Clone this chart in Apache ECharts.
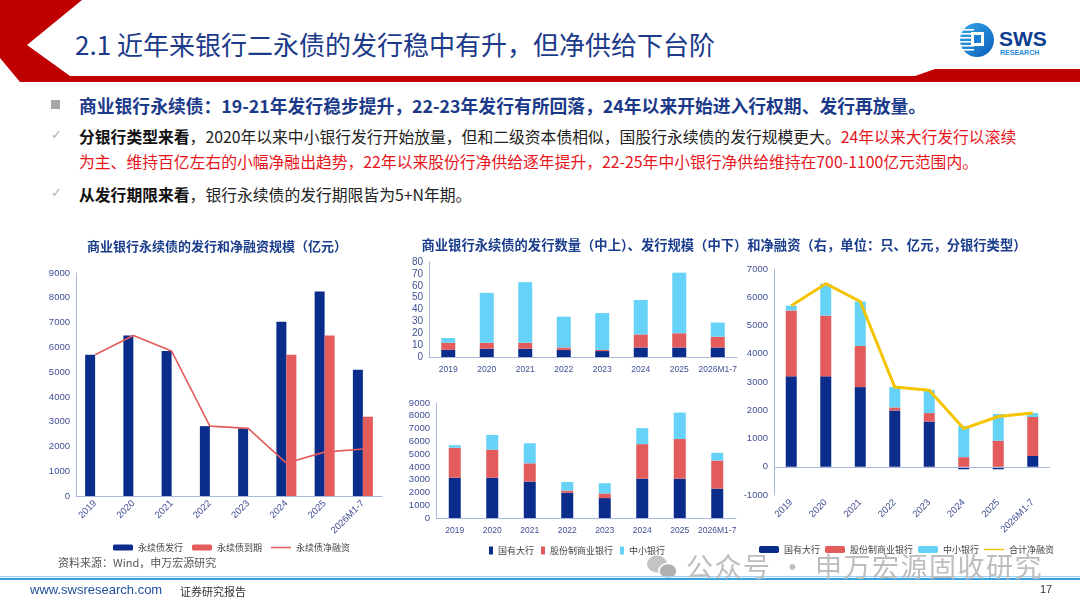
<!DOCTYPE html>
<html><head><meta charset="utf-8">
<script src="https://cdn.jsdelivr.net/npm/echarts@6/dist/echarts.min.js"></script>
<style>
html,body{margin:0;padding:0;}
body{width:1080px;height:608px;overflow:hidden;background:#fff;position:relative;font-family:'Noto Sans CJK SC','Noto Sans',sans-serif;}
.abs{position:absolute;white-space:nowrap;}
#title{left:75px;top:26px;font-size:26px;color:#1b3a8a;line-height:36px;}
.l1{left:79px;top:94px;font-size:17.8px;font-weight:bold;color:#1b3a8a;line-height:22px;}
.tx{left:79px;font-size:15.8px;line-height:22px;color:#222;}
.tx b{color:#111;}
.red{color:#e8141c;}
.chk{left:51px;font-size:13px;color:#b0b0b0;font-family:'DejaVu Sans',sans-serif;}
#chart{position:absolute;left:0;top:0;width:1080px;height:608px;}
.wm{left:686px;top:546px;font-size:27px;color:#bdbdbd;letter-spacing:1.5px;z-index:5;}
</style></head>
<body>
<svg class="abs" style="left:0;top:0" width="1080" height="100">
  <polygon points="0,0 82,0 27,45 70,76 915,76 935,69 1080,69 1080,82 20,82 0,58" fill="#c00000"/>
  <defs><linearGradient id="g1" x1="0" y1="0" x2="1" y2="1"><stop offset="0" stop-color="#35a8ef"/><stop offset="1" stop-color="#0b5fb5"/></linearGradient></defs>
  <circle cx="977" cy="40" r="17" fill="url(#g1)"/>
  <g fill="#fff">
    <rect x="960" y="29" width="14" height="1.6"/>
    <rect x="960" y="33" width="14" height="1.6"/>
    <rect x="960" y="37" width="14" height="1.6"/>
    <rect x="960" y="41" width="14" height="1.6"/>
    <rect x="960" y="45" width="14" height="1.6"/>
    <rect x="960" y="49" width="14" height="1.6"/>
    <rect x="971" y="32" width="13" height="14"/>
  </g>
  <rect x="974" y="35" width="7" height="8" fill="#1c7fd6"/>
  <text x="999" y="46" font-family="Liberation Sans" font-weight="bold" font-size="21" fill="#0d3e8f">SWS</text>
  <text x="1000" y="55" font-family="Liberation Sans" font-weight="bold" font-size="7" fill="#1e8ad8">RESEARCH</text>
</svg>
<div id="title" class="abs">2.1 近年来银行二永债的发行稳中有升，但净供给下台阶</div>
<div class="abs" style="left:51px;top:100px;width:9px;height:9px;background:#a6a6a6"></div>
<div class="abs l1">商业银行永续债：19-21年发行稳步提升，22-23年发行有所回落，24年以来开始进入行权期、发行再放量。</div>
<div class="abs chk" style="top:127px">✓</div>
<div class="abs tx" style="top:126px"><b>分银行类型来看</b>，2020年以来中小银行发行开始放量，但和二级资本债相似，国股行永续债的发行规模更大。<span class="red">24年以来大行发行以滚续</span></div>
<div class="abs tx red" style="top:151px">为主、维持百亿左右的小幅净融出趋势，22年以来股份行净供给逐年提升，22-25年中小银行净供给维持在700-1100亿元范围内。</div>
<div class="abs chk" style="top:185px">✓</div>
<div class="abs tx" style="top:184px"><b>从发行期限来看</b>，银行永续债的发行期限皆为5+N年期。</div>

<div id="chart"></div>

<svg class="abs" style="left:0;top:540px;z-index:4" width="1080" height="68">
  <ellipse cx="657" cy="24" rx="10" ry="8.5" fill="#c4c4c4"/>
  <ellipse cx="668" cy="31" rx="9" ry="7.5" fill="#b0b0b0" stroke="#fff" stroke-width="1.5"/>
  <rect x="0" y="36" width="1080" height="1.2" fill="#9fd3ef"/>
  <rect x="0" y="38" width="1080" height="2" fill="#3aa0dc"/>
</svg>
<div class="abs wm">公众号 · 申万宏源固收研究</div>
<div class="abs" style="left:58px;top:554px;font-size:11px;color:#555;">资料来源：Wind，申万宏源研究</div>
<div class="abs" style="left:30px;top:582px;font-size:13px;color:#1f4e9c;font-family:'Liberation Sans',sans-serif;">www.swsresearch.com</div>
<div class="abs" style="left:180px;top:583px;font-size:11px;color:#333;">证券研究报告</div>
<div class="abs" style="left:1040px;top:583px;font-size:11px;color:#333;font-family:'Liberation Sans',sans-serif;">17</div>

<script>
// ---- data ----
const years = ['2019','2020','2021','2022','2023','2024','2025','2026M1-7'];
// left chart (亿元)
const issueTotal = [5700,6480,5850,2820,2730,7030,8250,5100];
const maturity   = [0,0,0,0,0,5700,6480,3200];
const netTotal   = [5700,6480,5850,2820,2730,1330,1770,1900];
// middle top: issuance count (只)
const countState = [6,7,7,6,5,8,8,8];
const countJoint = [6,5,5,2,1,11,12,9];
const countSmall = [4,42,51,26,31,29,51,12];
// middle bottom: issuance size (亿元)
const issueState = [3150,3150,2850,1980,1560,3080,3080,2300];
const issueJoint = [2350,2200,1430,170,360,2700,3100,2200];
const issueSmall = [200,1150,1570,670,800,1250,2070,600];
// right: net financing (亿元)
const netState = [3200,3200,2820,1990,1600,-90,-90,380];
const netJoint = [2330,2150,1460,110,300,340,920,1380];
const netSmall = [170,1130,1570,720,810,1100,950,140];
const netSum   = [5700,6480,5850,2820,2710,1350,1780,1900];
const ticks9000 = {min:0,max:9000,interval:1000};
const ticks80 = {min:0,max:80,interval:10};
const ticksNet = {min:-1000,max:7000,interval:1000};

const NAVY='#0a2d8c', RED='#e45b5b', CYAN='#66d2f7', YEL='#f5c400';
const AX='#a9b7dc', LBL='#3f4f95';
const FF = "'Liberation Sans','Noto Sans CJK SC',sans-serif";

function xAx(g, rot, extra){
  return Object.assign({type:'category',gridIndex:g,data:years,
    axisLine:{show:true,lineStyle:{color:AX,width:1}},axisTick:{show:false},
    axisLabel:{interval:0,rotate:rot,fontSize:rot?9.5:8.5,color:LBL,fontFamily:FF,margin:rot?6:8}},extra||{});
}
function yAx(g, t, fs){
  return {type:'value',gridIndex:g,min:t.min,max:t.max,interval:t.interval,
    axisLine:{show:true,lineStyle:{color:AX}},axisTick:{show:false},splitLine:{show:false},
    axisLabel:{fontSize:fs,color:LBL,fontFamily:FF,margin:6,formatter:function(v){return String(v);}}};
}
const legText = {fontSize:9,color:'#444',fontFamily:"'Noto Sans CJK SC',sans-serif"};
const lineIcon = 'path://M0,0L40,0L40,3L0,3Z';
const chart = echarts.init(document.getElementById('chart'));
chart.setOption({
  animation:false,
  textStyle:{fontFamily:FF},
  graphic:[
    {type:'text',x:217,y:246,style:{text:'商业银行永续债的发行和净融资规模（亿元）',fill:'#1a3d8c',font:"bold 13px 'Noto Sans CJK SC'",textAlign:'center',textVerticalAlign:'middle'}},
    {type:'text',x:724,y:245,style:{text:'商业银行永续债的发行数量（中上）、发行规模（中下）和净融资（右，单位：只、亿元，分银行类型）',fill:'#1a3d8c',font:"bold 13.3px 'Noto Sans CJK SC'",textAlign:'center',textVerticalAlign:'middle'}}
  ],
  grid:[
    {left:76,top:273,width:306,height:223,outerBoundsMode:'none'},
    {left:429,top:262,width:308,height:95,outerBoundsMode:'none'},
    {left:436,top:403,width:300,height:115,outerBoundsMode:'none'},
    {left:774,top:269,width:276,height:226,outerBoundsMode:'none'}
  ],
  xAxis:[xAx(0,45), xAx(1,0), xAx(2,0), xAx(3,45,{axisLine:{show:false,onZero:false}})],
  yAxis:[yAx(0,ticks9000,9.5), yAx(1,ticks80,10), yAx(2,ticks9000,9.5), yAx(3,ticksNet,9.5)],
  legend:[
    {data:['永续债发行','永续债到期',{name:'永续债净融资',icon:lineIcon}],left:108,top:538,itemWidth:20,itemHeight:6,itemGap:9,textStyle:legText,selectedMode:false},
    {data:['国有大行','股份制商业银行','中小银行'],left:484,top:541,icon:'rect',itemWidth:4,itemHeight:8,itemGap:7,textStyle:legText,selectedMode:false},
    {data:['国有大行','股份制商业银行','中小银行',{name:'合计净融资',icon:lineIcon}],left:754,top:540,itemWidth:20,itemHeight:7,itemGap:5,textStyle:legText,selectedMode:false}
  ],
  series:[
    {name:'永续债发行',type:'bar',xAxisIndex:0,yAxisIndex:0,data:issueTotal,barWidth:10,barGap:'0%',itemStyle:{color:NAVY}},
    {name:'永续债到期',type:'bar',xAxisIndex:0,yAxisIndex:0,data:maturity,barWidth:10,barGap:'0%',itemStyle:{color:RED}},
    {name:'永续债净融资',type:'line',xAxisIndex:0,yAxisIndex:0,data:netTotal,symbol:'none',lineStyle:{color:RED,width:1.6},itemStyle:{color:RED}},

    {name:'国有大行',type:'bar',stack:'cnt',xAxisIndex:1,yAxisIndex:1,data:countState,barWidth:14,itemStyle:{color:NAVY}},
    {name:'股份制商业银行',type:'bar',stack:'cnt',xAxisIndex:1,yAxisIndex:1,data:countJoint,barWidth:14,itemStyle:{color:RED}},
    {name:'中小银行',type:'bar',stack:'cnt',xAxisIndex:1,yAxisIndex:1,data:countSmall,barWidth:14,itemStyle:{color:CYAN}},

    {name:'国有大行',type:'bar',stack:'iss',xAxisIndex:2,yAxisIndex:2,data:issueState,barWidth:12,itemStyle:{color:NAVY}},
    {name:'股份制商业银行',type:'bar',stack:'iss',xAxisIndex:2,yAxisIndex:2,data:issueJoint,barWidth:12,itemStyle:{color:RED}},
    {name:'中小银行',type:'bar',stack:'iss',xAxisIndex:2,yAxisIndex:2,data:issueSmall,barWidth:12,itemStyle:{color:CYAN}},

    {name:'国有大行',type:'bar',stack:'net',xAxisIndex:3,yAxisIndex:3,data:netState,barWidth:11,itemStyle:{color:NAVY},
      markLine:{silent:true,symbol:['none','none'],label:{show:false},lineStyle:{color:AX,type:'solid',width:1},data:[{yAxis:0}]}},
    {name:'股份制商业银行',type:'bar',stack:'net',xAxisIndex:3,yAxisIndex:3,data:netJoint,barWidth:11,itemStyle:{color:RED}},
    {name:'中小银行',type:'bar',stack:'net',xAxisIndex:3,yAxisIndex:3,data:netSmall,barWidth:11,itemStyle:{color:CYAN}},
    {name:'合计净融资',type:'line',xAxisIndex:3,yAxisIndex:3,data:netSum,symbol:'none',lineStyle:{color:YEL,width:3},itemStyle:{color:YEL},z:5}
  ]
});
</script>
</body></html>
